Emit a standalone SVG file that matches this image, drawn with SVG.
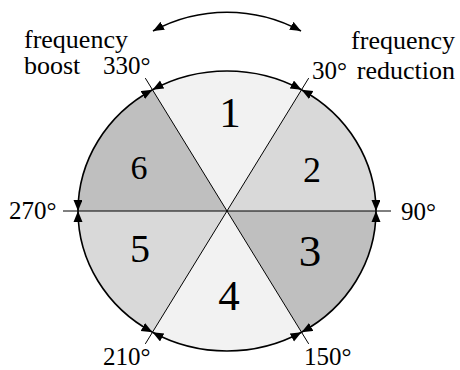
<svg xmlns="http://www.w3.org/2000/svg" width="460" height="370" viewBox="0 0 460 370">
<style>
text{font-family:"Liberation Serif","DejaVu Serif",serif;fill:#000}
.lab{font-size:25px}
.wd{font-size:26px}
.num{text-anchor:middle}
.arc{fill:none;stroke:#000;stroke-width:1.6;marker-start:url(#ah);marker-end:url(#ah)}
.ln{stroke:#000;stroke-width:1}
</style>
<defs>
<marker id="ah" markerUnits="userSpaceOnUse" markerWidth="12" markerHeight="10" refX="11" refY="4.5" orient="auto-start-reverse">
<path d="M0,0 L11,4.5 L0,9 z" fill="#000"/>
</marker>
</defs>
<g id="sector1"><path d="M227,211 L152.5,89.76 A149 140 0 0 1 301.5,89.76 Z" fill="#f2f2f2"/><text class="num" x="230" y="127" font-size="43">1</text></g>
<g id="sector2"><path d="M227,211 L301.5,89.76 A149 140 0 0 1 376,211 Z" fill="#d9d9d9"/><text class="num" x="312" y="182" font-size="36">2</text></g>
<g id="sector3"><path d="M227,211 L376,211 A149 140 0 0 1 301.5,332.24 Z" fill="#bfbfbf"/><text class="num" x="310" y="266" font-size="45">3</text></g>
<g id="sector4"><path d="M227,211 L301.5,332.24 A149 140 0 0 1 152.5,332.24 Z" fill="#f2f2f2"/><text class="num" x="229" y="310" font-size="43">4</text></g>
<g id="sector5"><path d="M227,211 L152.5,332.24 A149 140 0 0 1 78,211 Z" fill="#d9d9d9"/><text class="num" x="140" y="262" font-size="40">5</text></g>
<g id="sector6"><path d="M227,211 L78,211 A149 140 0 0 1 152.5,89.76 Z" fill="#bfbfbf"/><text class="num" x="139" y="179" font-size="34">6</text></g>
<g id="connectors">
<line class="ln" x1="145.3" y1="78.1" x2="308.7" y2="343.9"/>
<line class="ln" x1="308.7" y1="78.1" x2="145.3" y2="343.9"/>
<line class="ln" x1="63" y1="211" x2="391" y2="211"/>
<path class="arc" d="M152.5,89.76 A149 140 0 0 1 301.5,89.76"/>
<path class="arc" d="M301.5,89.76 A149 140 0 0 1 376,211"/>
<path class="arc" d="M376,211 A149 140 0 0 1 301.5,332.24"/>
<path class="arc" d="M301.5,332.24 A149 140 0 0 1 152.5,332.24"/>
<path class="arc" d="M152.5,332.24 A149 140 0 0 1 78,211"/>
<path class="arc" d="M78,211 A149 140 0 0 1 152.5,89.76"/>
<path class="arc" d="M153,31 A155 155 0 0 1 301,31"/>
</g>
<g id="labels">
<text class="wd" x="24" y="48">frequency</text>
<text class="wd" x="24" y="74">boost</text>
<text class="lab" x="103" y="74">330°</text>
<text class="wd" x="455" y="49" text-anchor="end">frequency</text>
<text class="wd" x="455" y="79" text-anchor="end">reduction</text>
<text class="lab" x="312" y="79">30°</text>
<text class="lab" x="9" y="219">270°</text>
<text class="lab" x="401" y="220">90°</text>
<text class="lab" x="103" y="365">210°</text>
<text class="lab" x="304" y="365">150°</text>
</g>
</svg>
